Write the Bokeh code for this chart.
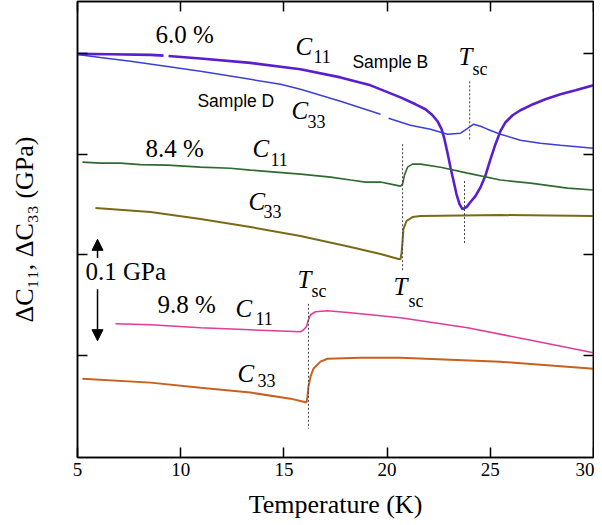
from bokeh.plotting import figure
from bokeh.models import Range1d, FixedTicker, LinearAxis, Label, Arrow, NormalHead
from bokeh.embed import file_html
from bokeh.resources import INLINE

nan = float("nan")

# ---------------- data (Temperature K, Delta C in GPa, offsets) ----------------
# 6.0 %, Sample B, C11
T_60_c11 = [5.00, 6.60, 8.54, 9.17, nan, 9.41, 10.96, 13.38, 15.80, 17.74, 19.20, 20.65, 21.38,
            21.86, 22.20, 22.44, 22.64, 22.78, 22.93, 23.07, 23.22, 23.36, 23.51, 23.65,
            23.85, 24.04, 24.28, 24.53, 24.77, 25.01, 25.25, 25.49, 25.74, 26.08, 26.46,
            26.95, 27.67, 28.40, 29.13, 30.00]
C_60_c11 = [0.2995, 0.2992, 0.2985, 0.2978, nan, 0.2974, 0.2950, 0.2906, 0.2842, 0.2762, 0.2683,
            0.2564, 0.2495, 0.2446, 0.2386, 0.2327, 0.2248, 0.2149, 0.2010, 0.1871, 0.1733,
            0.1604, 0.1505, 0.1455, 0.1475, 0.1525, 0.1584, 0.1673, 0.1792, 0.1950, 0.2099,
            0.2228, 0.2317, 0.2386, 0.2436, 0.2485, 0.2545, 0.2594, 0.2634, 0.2683]

# 6.0 %, Sample D, C33
T_60_c33 = [5.00, 6.11, 7.57, 9.36, 10.96, 13.38, 14.84, 15.80, 17.74, 19.68, nan, 20.07,
            21.13, 22.10, 22.93, 23.56, 23.85, 24.04, 24.19, 24.53, 24.86, 25.49, 26.46,
            27.43, 28.40, 30.00]
C_60_c33 = [0.2990, 0.2960, 0.2921, 0.2871, 0.2822, 0.2743, 0.2693, 0.2644, 0.2525, 0.2396,
            nan, 0.2356, 0.2287, 0.2248, 0.2198, 0.2208, 0.2248, 0.2277, 0.2297, 0.2277,
            0.2248, 0.2198, 0.2139, 0.2109, 0.2089, 0.2059]

# 8.4 %, C11
T_84_c11 = [5.24, 6.11, 7.08, 8.05, 9.36, 10.96, 12.41, 13.38, 14.59, 15.80, 17.26, 18.23,
            18.95, 19.68, 20.41, 20.65, 20.75, 20.84, 20.99, 21.23, 21.62, 22.59,
            23.90, 25.49, 26.95, 28.74, 30.00]
C_84_c11 = [0.1921, 0.1911, 0.1911, 0.1896, 0.1891, 0.1871, 0.1861, 0.1842, 0.1822, 0.1802,
            0.1772, 0.1743, 0.1723, 0.1723, 0.1693, 0.1683, 0.1703, 0.1792, 0.1871,
            0.1901, 0.1901, 0.1871, 0.1812, 0.1743, 0.1713, 0.1663, 0.1644]

# 8.4 %, C33
T_84_c33 = [5.87, 8.54, 10.96, 13.38, 15.80, 18.23, 19.68, 20.55, 20.65, 20.70, 20.75, 20.79,
            20.94, 21.23, 21.62, 25.49, 30.00]
C_84_c33 = [0.1465, 0.1426, 0.1356, 0.1277, 0.1188, 0.1079, 0.1010, 0.0960, 0.0960, 0.1020,
            0.1139, 0.1257, 0.1337, 0.1376, 0.1386, 0.1396, 0.1386]

# 9.8 %, C11
T_98_c11 = [6.84, 8.54, 10.96, 13.38, 15.80, 15.95, 16.09, 16.19, 16.29, 16.53, 17.11, 18.23,
            20.65, 23.90, 27.09, 30.00]
C_98_c11 = [0.0317, 0.0307, 0.0277, 0.0257, 0.0238, 0.0257, 0.0287, 0.0356, 0.0406, 0.0436,
            0.0446, 0.0426, 0.0376, 0.0277, 0.0149, 0.0030]

# 9.8 %, C33
T_98_c33 = [5.24, 8.54, 10.96, 13.38, 15.32, 15.90, 16.09, 16.14, 16.19, 16.29, 16.43, 16.77,
            17.11, 18.71, 20.65, 25.49, 30.00]
C_98_c33 = [-0.0228, -0.0267, -0.0317, -0.0366, -0.0426, -0.0455, -0.0465, -0.0406, -0.0307,
            -0.0208, -0.0129, -0.0059, -0.0030, -0.0020, -0.0020, -0.0059, -0.0129]

# T_sc markers (dotted verticals)
tsc_T = [24.00, 20.75, 23.75, 16.19]
tsc_y0 = [0.2723, 0.2099, 0.1733, 0.0515]
tsc_y1 = [0.2129, 0.0842, 0.1109, -0.0723]

x_ticks = [5, 10, 15, 20, 25, 30]
y_ticks = [0.0, 0.1, 0.2, 0.3]

SERIF = "Liberation Serif"
SANS = "Liberation Sans"

p = figure(width=594, height=525, x_range=Range1d(5, 30), y_range=Range1d(-0.101, 0.3515),
           output_backend="svg", toolbar_location=None,
           min_border_left=77, min_border_right=1, min_border_top=1, min_border_bottom=68)
p.xgrid.visible = False
p.ygrid.visible = False
p.outline_line_color = "black"
p.outline_line_width = 1.5
p.background_fill_color = "white"
p.border_fill_color = "white"

def tick_only(ax, ticks):
    # ticks drawn as (label-less) minor ticks pointing inward
    ax.ticker = FixedTicker(ticks=[], minor_ticks=ticks)
    ax.minor_tick_in = 10
    ax.minor_tick_out = 0
    ax.minor_tick_line_width = 1.5
    ax.minor_tick_line_color = "black"
    ax.major_tick_line_color = None
    ax.axis_line_width = 1.5
    ax.axis_line_color = "black"

xa = p.xaxis[0]
xa.ticker = FixedTicker(ticks=x_ticks)
xa.major_tick_in = 10
xa.major_tick_out = 0
xa.minor_tick_line_color = None
xa.major_tick_line_width = 1.5
xa.major_tick_line_color = "black"
xa.axis_line_width = 1.5
xa.axis_line_color = "black"
xa.major_label_text_font = SERIF
xa.major_label_text_font_size = "19px"
xa.major_label_text_color = "black"
xa.major_label_standoff = 5
xa.axis_label = "Temperature (K)"
xa.axis_label_text_font = SERIF
xa.axis_label_text_font_size = "26px"
xa.axis_label_text_font_style = "normal"
xa.axis_label_text_color = "black"
xa.axis_label_standoff = 11

ya = p.yaxis[0]
tick_only(ya, y_ticks)
ya.axis_label = "\u0394C\u2081\u2081, \u0394C\u2083\u2083 (GPa)"
ya.axis_label_text_font = SERIF
ya.axis_label_text_font_size = "26px"
ya.axis_label_text_font_style = "normal"
ya.axis_label_text_color = "black"
ya.axis_label_standoff = 39

top = LinearAxis()
tick_only(top, x_ticks)
p.add_layout(top, "above")
right = LinearAxis()
tick_only(right, y_ticks)
p.add_layout(right, "right")

# curves
p.line(T_60_c11, C_60_c11, line_color="#5a1ecc", line_width=2.6)
p.line(T_60_c33, C_60_c33, line_color="#3c3fd6", line_width=1.5)
p.line(T_84_c11, C_84_c11, line_color="#2f6a30", line_width=1.6)
p.line(T_84_c33, C_84_c33, line_color="#7a6a18", line_width=2.0)
p.line(T_98_c11, C_98_c11, line_color="#e03c98", line_width=1.6)
p.line(T_98_c33, C_98_c33, line_color="#c8601e", line_width=2.0)

p.segment(x0=tsc_T, y0=tsc_y0, x1=tsc_T, y1=tsc_y1, line_color="#444444",
          line_width=1, line_dash="2 2")

# text annotations: (text, x, y-baseline, size, style, font)
labels = [
    ("6.0 %", 8.78, 0.3089, 25, "normal", SERIF),
    ("C", 15.56, 0.2970, 25, "italic", SERIF), ("11", 16.43, 0.2901, 18, "normal", SERIF),
    ("Sample B", 18.32, 0.2851, 17.5, "normal", SANS),
    ("T", 23.46, 0.2871, 25, "italic", SERIF), ("sc", 24.14, 0.2782, 18, "normal", SERIF),
    ("Sample D", 10.81, 0.2465, 17.5, "normal", SANS),
    ("C", 15.37, 0.2337, 25, "italic", SERIF), ("33", 16.14, 0.2257, 18, "normal", SERIF),
    ("8.4 %", 8.29, 0.1960, 25, "normal", SERIF),
    ("C", 13.48, 0.1960, 25, "italic", SERIF), ("11", 14.35, 0.1881, 18, "normal", SERIF),
    ("C", 13.28, 0.1436, 25, "italic", SERIF), ("33", 14.01, 0.1366, 18, "normal", SERIF),
    ("0.1 GPa", 5.39, 0.0743, 25, "normal", SERIF),
    ("T", 20.31, 0.0594, 25, "italic", SERIF), ("sc", 21.04, 0.0475, 18, "normal", SERIF),
    ("9.8 %", 8.88, 0.0416, 25, "normal", SERIF),
    ("C", 12.66, 0.0376, 25, "italic", SERIF), ("11", 13.62, 0.0297, 18, "normal", SERIF),
    ("T", 15.66, 0.0663, 25, "italic", SERIF), ("sc", 16.34, 0.0574, 18, "normal", SERIF),
    ("C", 12.75, -0.0267, 25, "italic", SERIF), ("33", 13.72, -0.0317, 18, "normal", SERIF),
]
PX_PER_UNIT = 456 / 0.4525
for txt, x, y, sz, st, fnt in labels:
    p.add_layout(Label(x=x, y=y + 0.38 * sz / PX_PER_UNIT, text=txt, text_font=fnt,
                       text_font_size=f"{sz}px", text_font_style=st, text_color="black",
                       text_align="left", text_baseline="alphabetic"))

# 0.1 GPa scale arrows
p.add_layout(Arrow(end=NormalHead(size=11, fill_color="black", line_color="black"),
                   x_start=5.97, y_start=0.097, x_end=5.97, y_end=0.1155,
                   line_width=1.5, line_color="black"))
p.add_layout(Arrow(end=NormalHead(size=11, fill_color="black", line_color="black"),
                   x_start=5.97, y_start=0.066, x_end=5.97, y_end=0.0149,
                   line_width=1.5, line_color="black"))

open("out.html", "w").write(file_html(p, INLINE))
